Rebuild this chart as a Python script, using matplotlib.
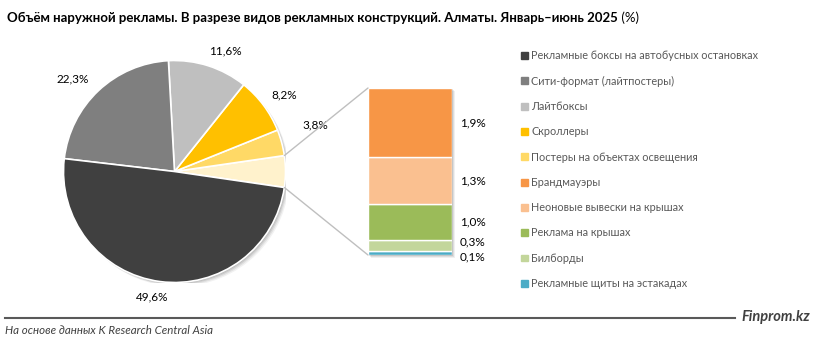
import numpy as np
import matplotlib
matplotlib.use("Agg")
import matplotlib.pyplot as plt
from matplotlib.patches import ConnectionPatch, Rectangle, Circle
import matplotlib.transforms as mtransforms

plt.rcParams['font.family'] = ['Lato', 'DejaVu Sans']

# ---------------- data ----------------
pie_labels = ["Рекламные боксы на автобусных остановках",
              "Сити-формат (лайтпостеры)",
              "Лайтбоксы",
              "Скроллеры",
              "Постеры на объектах освещения"]
pie_values = [49.6, 22.3, 11.6, 8.2, 3.8]
pie_colors = ["#404040", "#7f7f7f", "#bfbfbf", "#ffc000", "#ffd966"]
other_color = "#fff2cc"

bar_labels = ["Брандмауэры",
              "Неоновые вывески на крышах",
              "Реклама на крышах",
              "Билборды",
              "Рекламные щиты на эстакадах"]
bar_values = [1.9, 1.3, 1.0, 0.3, 0.1]
bar_colors = ["#f79646", "#fac090", "#9bbb59", "#c3d69b", "#4bacc6"]

title_bold = "Объём наружной рекламы. В разрезе видов рекламных конструкций. Алматы. Январь–июнь 2025"
title_unit = " (%)"
source = "На основе данных K Research Central Asia"
brand = "Finprom.kz"

def fmt(v):
    return f"{v:.1f}".replace(".", ",") + "%"

W, H = 815, 342
fig = plt.figure(figsize=(W / 100, H / 100), dpi=100)
fig.patch.set_facecolor("white")

def px_axes(x0, y0, x1, y1):
    return fig.add_axes([x0 / W, 1 - y1 / H, (x1 - x0) / W, (y1 - y0) / H])

# ---------------- pie ----------------
axp = px_axes(63.5, 60.5, 285.5, 282.5)
other_total = sum(bar_values)
vals = [other_total] + pie_values[::-1]
cols = [other_color] + pie_colors[::-1]
start = -other_total / 100 * 360 / 2

# soft shadow
for (dx, dy, a) in [(4, -4, 0.05), (3, -3, 0.07), (2, -2, 0.09), (1, -1, 0.1)]:
    tr = mtransforms.offset_copy(axp.transData, fig=fig, x=dx, y=dy, units="dots")
    axp.add_patch(Circle((0, 0), 1.0, transform=tr, facecolor="black", alpha=a,
                         edgecolor="none", zorder=0))

wedges, _ = axp.pie(vals, colors=cols, startangle=start, counterclock=True,
                    radius=1, wedgeprops=dict(edgecolor="white", linewidth=1.2, zorder=2))
axp.set_xlim(-1, 1)
axp.set_ylim(-1, 1)
axp.set_aspect("equal")
axp.axis("off")

# extra label nudges in pixels (order: 3.8, 8.2, 11.6, 22.3, 49.6)
label_nudges = [(10, 14), (1, 1), (10, 0), (-9, 0), (-5, 0)]
for w, v, (nx, ny) in zip(wedges[1:], vals[1:], label_nudges):
    ang = np.deg2rad((w.theta1 + w.theta2) / 2)
    c, s = np.cos(ang), np.sin(ang)
    r = 1.07
    axp.annotate(fmt(v), xy=(r * c, r * s), xytext=(17 * c + nx, 8 * s + ny),
                 textcoords="offset pixels", ha="center", va="center",
                 fontsize=8.5, color="#000000", annotation_clip=False)

# ---------------- bar ----------------
axb = px_axes(368, 88, 452, 255)
for (dx, dy, a) in [(3, -3, 0.06), (2, -2, 0.08), (1, -1, 0.1)]:
    tr = mtransforms.offset_copy(axb.transData, fig=fig, x=dx, y=dy, units="dots")
    axb.add_patch(Rectangle((-0.5, 0), 1, other_total, transform=tr, facecolor="black",
                            alpha=a, edgecolor="none", zorder=0, clip_on=False))
bottom = 0.0
rev_vals = bar_values[::-1]
rev_cols = bar_colors[::-1]
centers = []
for v, c in zip(rev_vals, rev_cols):
    axb.bar(0, v, bottom=bottom, width=1, color=c, edgecolor="white", linewidth=1.0,
            zorder=2)
    centers.append(bottom + v / 2)
    bottom += v
axb.set_xlim(-0.5, 0.5)
axb.set_ylim(0, other_total)
axb.axis("off")

nudges = [-4, 4, 0, 0, 0]  # pixel nudges for small segments (bottom-up)
for v, yc, dy in zip(rev_vals, centers, nudges):
    axb.annotate(fmt(v), xy=(0.5, yc), xytext=(8, dy), textcoords="offset pixels",
                 ha="left", va="center", fontsize=8.5, color="#000000",
                 annotation_clip=False)

# connectors
th_top = np.deg2rad(wedges[0].theta2)
th_bot = np.deg2rad(wedges[0].theta1)
for th, yb in [(th_top, other_total), (th_bot, 0)]:
    con = ConnectionPatch(xyA=(-0.5, yb), coordsA=axb.transData,
                          xyB=(np.cos(th), np.sin(th)), coordsB=axp.transData,
                          color="#bfbfbf", linewidth=1.0)
    fig.add_artist(con)

# ---------------- legend ----------------
all_labels = pie_labels + bar_labels
all_colors = pie_colors + bar_colors
handles = [Rectangle((0, 0), 1, 1, color=c) for c in all_colors]
leg = fig.legend(handles, all_labels, loc="upper left",
                 bbox_to_anchor=(517 / W, 1 - 46 / H), frameon=False,
                 fontsize=7.8, labelcolor="#595959", handlelength=0.6,
                 handleheight=0.6, handletextpad=0.3, labelspacing=1.32,
                 borderaxespad=0)

# ---------------- title / footer ----------------
t = fig.text(7 / W, 1 - 18 / H, title_bold, fontsize=9.5, fontweight="bold",
             ha="left", va="center", color="#000000")
fig.canvas.draw()
bb = t.get_window_extent()
fig.text(bb.x1 / W, 1 - 18 / H, title_unit, fontsize=9.5, ha="left", va="center",
         color="#000000")

fig.add_artist(plt.Line2D([5 / W, 735 / W], [1 - 318 / H, 1 - 318 / H],
                          color="#595959", linewidth=1.5))
fig.text(810 / W, 1 - 317 / H, brand, fontsize=10.5, fontweight="bold", style="italic",
         ha="right", va="center", color="#404040")
fig.text(5 / W, 1 - 330 / H, source, fontsize=8.3, style="italic",
         ha="left", va="center", color="#404040")

fig.savefig("out.png", dpi=100)
